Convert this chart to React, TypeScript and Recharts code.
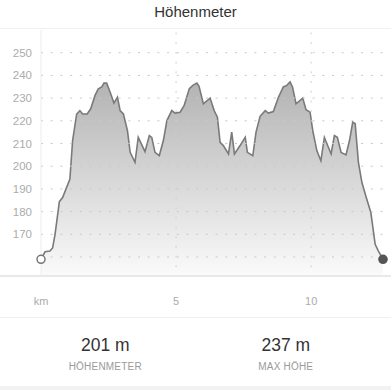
import { AreaChart, Area, XAxis, YAxis, ReferenceLine } from "recharts";

const km = [
    0, 0.15, 0.33, 0.43, 0.52, 0.68, 0.8, 1.07, 1.17, 1.32, 1.44, 1.54, 1.71, 1.84, 2.0, 2.12, 2.25, 2.33, 2.43,
    2.56, 2.7, 2.83, 2.93, 3.05, 3.2, 3.3, 3.48, 3.6, 3.85, 4.01, 4.1, 4.22, 4.38, 4.53, 4.66, 4.84, 4.96, 5.15,
    5.3, 5.49, 5.62, 5.77, 5.85, 6.01, 6.26, 6.41, 6.53, 6.63, 6.75, 6.94, 7.06, 7.16, 7.37, 7.56, 7.64, 7.84,
    7.96, 8.11, 8.3, 8.42, 8.6, 8.79, 8.97, 9.1, 9.22, 9.31, 9.44, 9.69, 9.81, 9.96, 10.06, 10.21, 10.36, 10.49,
    10.74, 10.86, 10.97, 11.11, 11.29, 11.42, 11.54, 11.63, 11.75, 11.88, 12.04, 12.21, 12.37, 12.49, 12.66,
];

const elevation = [
    159, 162.3, 162.6, 164, 170, 184.4, 186.2, 194.3, 211.3, 223, 224.5, 223, 223, 225.3, 231.2, 234.1, 234.9,
    236.6, 236.6, 232.6, 227.8, 230.4, 224.5, 223, 215.7, 206.1, 201.7, 212.7, 206.4, 213.5, 212.7, 206.1, 204.7,
    211.3, 220.1, 224.5, 223.4, 223.8, 226.8, 234.1, 235.6, 236.6, 235.2, 227.5, 230, 224.5, 221.6, 210.5, 209.1,
    205.4, 215, 205.4, 209.1, 212.7, 206.1, 204.6, 215, 222, 224.5, 223.4, 224.1, 230.4, 234.9, 235.6, 237.1,
    234.9, 227.5, 230, 224.9, 223.8, 215.7, 206.9, 202.4, 212.7, 205.4, 213.5, 212.7, 206.1, 205, 211.3, 219.4,
    218.7, 201.7, 192.8, 186.2, 179.6, 165.6, 162.6, 159,
];

const yTicks = [160, 170, 180, 190, 200, 210, 220, 230, 240, 250];
const xTicks = [0, 5, 10];

const stats = [
    { value: "201 m", label: "HÖHENMETER" },
    { value: "237 m", label: "MAX HÖHE" },
];

const data = km.map((k, i) => ({ km: k, ele: elevation[i] }));

const font = '"Liberation Sans", Arial, sans-serif';

const YTick = ({ x, y, payload }: any) => {
    if (payload.value === 160) return <g />;
    return (
        <text x={x} y={y} dy={4} textAnchor="end" fill="#ababab" fontSize={11.5} fontFamily={font}>
            {payload.value}
        </text>
    );
};

const XTick = ({ x, y, payload }: any) => (
    <text x={x} y={y} dy={26} textAnchor="middle" fill="#ababab" fontSize={11} fontFamily={font}>
        {payload.value === 0 ? "km" : payload.value}
    </text>
);

const renderDot = (props: any) => {
    const { cx, cy, index } = props;
    if (index === 0) {
        return <circle key="start" cx={cx} cy={cy} r={4} fill="#fff" stroke="#777" strokeWidth={1.5} />;
    }
    if (index === data.length - 1) {
        return <circle key="end" cx={cx} cy={cy} r={4.8} fill="#555" />;
    }
    return <g key={`d-${index}`} />;
};

export default function App() {
    return (
        <div
            style={{
                position: "fixed",
                top: 0,
                left: 0,
                width: 391,
                height: 390,
                background: "#fff",
                fontFamily: font,
                overflow: "hidden",
            }}
        >
            <div
                style={{
                    height: 29,
                    lineHeight: "23px",
                    textAlign: "center",
                    fontSize: 15,
                    color: "#333",
                    borderBottom: "1px solid #f0f0f0",
                    boxSizing: "border-box",
                }}
            >
                Höhenmeter
            </div>
            <div style={{ position: "relative", width: 391, height: 289 }}>
                <AreaChart width={391} height={289} data={data} margin={{ top: 1, right: 8, left: 0, bottom: 0 }}>
                    <defs>
                        <linearGradient id="eleFill" x1="0" y1="0" x2="0" y2="1">
                            <stop offset="0%" stopColor="#b3b3b3" />
                            <stop offset="100%" stopColor="#fbfbfb" />
                        </linearGradient>
                    </defs>
                    <XAxis
                        dataKey="km"
                        type="number"
                        domain={[0, 12.66]}
                        ticks={xTicks}
                        interval={0}
                        tick={<XTick />}
                        tickLine={false}
                        axisLine={false}
                        tickSize={0}
                        height={41}
                    />
                    <YAxis
                        type="number"
                        domain={[151.2, 260]}
                        ticks={yTicks}
                        interval={0}
                        tick={<YTick />}
                        tickLine={false}
                        tickSize={0}
                        tickMargin={9}
                        width={41}
                        axisLine={{ stroke: "#ececec" }}
                    />
                    <Area
                        type="linear"
                        dataKey="ele"
                        stroke="#7a7a7a"
                        strokeWidth={1.6}
                        fill="url(#eleFill)"
                        fillOpacity={1}
                        dot={renderDot}
                        activeDot={false}
                        isAnimationActive={false}
                    />
                    {yTicks.map((t) => (
                        <ReferenceLine key={`y${t}`} y={t} stroke="#c8c8c8" strokeDasharray="2 7.7" />
                    ))}
                    {xTicks.slice(1).map((t) => (
                        <ReferenceLine key={`x${t}`} x={t} stroke="#d0d0d0" strokeDasharray="2 7.7" />
                    ))}
                </AreaChart>
                <div
                    style={{
                        position: "absolute",
                        left: 0,
                        top: 246,
                        width: 391,
                        height: 2,
                        background: "#e9e9e9",
                    }}
                />
                <div
                    style={{
                        position: "absolute",
                        left: 0,
                        bottom: 0,
                        width: 391,
                        height: 1,
                        background: "#f0f0f0",
                    }}
                />
            </div>
            <div style={{ display: "flex", padding: "0 15px", height: 68 }}>
                {stats.map((s) => (
                    <div key={s.label} style={{ flex: 1, textAlign: "center" }}>
                        <div style={{ fontSize: 17.5, color: "#333", marginTop: 16, lineHeight: "22px" }}>
                            {s.value}
                        </div>
                        <div
                            style={{
                                fontSize: 10,
                                color: "#9a9a9a",
                                marginTop: 4,
                                letterSpacing: 0.2,
                                lineHeight: "14px",
                            }}
                        >
                            {s.label}
                        </div>
                    </div>
                ))}
            </div>
            <div style={{ position: "absolute", left: 0, bottom: 0, width: 391, height: 4, background: "#f2f2f2" }} />
        </div>
    );
}
